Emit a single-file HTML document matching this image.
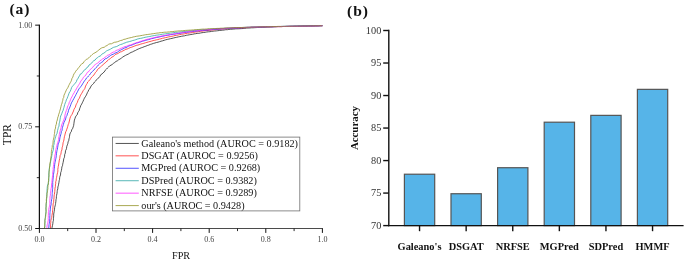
<!DOCTYPE html>
<html lang="en"><head><meta charset="utf-8"><title>Figure</title>
<style>html,body{margin:0;padding:0;background:#fff}svg{display:block}</style></head>
<body>
<svg width="685" height="259" viewBox="0 0 685 259">
<rect width="685" height="259" fill="#fff"/>
<g font-family="'Liberation Serif', serif" fill="#222">
<text x="9.4" y="14.1" font-size="15.6" letter-spacing="0.95" font-weight="bold" fill="#111">(a)</text>
<g fill="none" stroke-width="0.75" stroke-linejoin="round">
<path d="M52.0 228.4 L52.1 227.2 L52.5 225.5 L52.8 223.8 L53.0 221.8 L53.4 220.5 L53.4 218.8 L53.6 217.1 L53.7 215.9 L53.7 214.0 L53.9 213.0 L54.2 211.4 L54.5 209.2 L54.7 207.4 L55.1 205.9 L55.4 204.7 L55.6 203.4 L55.9 201.2 L56.0 199.7 L56.3 198.7 L56.4 196.7 L56.6 195.3 L57.0 193.3 L57.2 191.6 L57.3 190.5 L57.8 188.8 L57.9 186.9 L58.3 185.8 L58.6 184.2 L58.9 182.7 L59.2 180.6 L59.5 179.7 L59.7 177.5 L60.0 176.3 L60.5 175.0 L60.7 172.6 L61.2 171.4 L61.4 170.4 L61.7 168.8 L61.9 166.9 L62.5 165.7 L62.7 164.2 L63.1 162.5 L63.4 161.0 L63.8 158.6 L64.3 157.7 L64.6 156.2 L64.7 154.5 L65.3 153.1 L65.5 150.7 L66.0 150.0 L66.5 148.4 L66.8 146.3 L67.4 144.8 L67.8 143.7 L68.1 141.8 L68.7 140.8 L69.0 138.8 L69.4 137.6 L69.5 136.3 L69.9 134.0 L70.7 132.3 L71.3 131.6 L71.7 129.8 L72.5 128.8 L73.2 126.9 L73.6 125.7 L73.9 123.7 L74.1 122.1 L74.4 120.1 L74.9 118.7 L75.5 116.9 L76.3 115.6 L77.2 114.8 L77.8 112.6 L78.5 111.5 L79.2 110.5 L79.6 108.8 L80.2 107.3 L80.9 105.3 L81.7 104.1 L82.3 102.8 L82.8 101.8 L83.8 99.5 L84.4 98.2 L85.3 96.8 L85.9 95.9 L86.8 94.1 L87.5 92.3 L88.2 91.3 L88.8 89.6 L89.7 88.9 L90.6 87.0 L91.5 85.4 L92.4 84.7 L93.4 83.7 L94.5 82.0 L95.5 81.2 L96.5 79.8 L97.6 78.6 L98.8 77.8 L99.8 76.5 L100.8 74.7 L101.9 74.1 L103.1 72.8 L104.1 72.1 L105.2 70.3 L106.4 69.2 L107.5 68.0 L108.5 67.1 L109.7 65.8 L111.0 65.2 L112.3 64.4 L113.4 63.4 L114.7 62.5 L116.0 61.4 L117.4 60.8 L118.7 59.7 L120.1 59.0 L121.4 58.1 L122.8 57.0 L124.1 56.2 L125.5 55.4 L126.9 54.7 L128.3 54.1 L129.7 53.2 L131.1 52.4 L132.5 51.9 L133.9 51.1 L135.4 50.5 L136.8 49.7 L138.3 49.0 L139.8 48.4 L141.3 47.8 L142.8 47.3 L144.2 46.7 L145.8 46.2 L147.3 45.5 L148.8 45.1 L150.3 44.4 L151.8 44.0 L153.4 43.4 L154.9 43.0 L156.5 42.5 L158.0 42.2 L159.5 41.7 L161.1 41.2 L162.6 40.8 L164.2 40.3 L165.7 39.8 L167.3 39.4 L168.8 39.1 L170.4 38.7 L172.0 38.4 L173.5 38.0 L175.1 37.6 L176.7 37.3 L178.3 36.9 L179.9 36.6 L181.4 36.3 L183.0 36.0 L184.6 35.8 L186.2 35.3 L187.7 35.1 L189.3 34.8 L190.9 34.5 L192.5 34.3 L194.1 33.9 L195.6 33.7 L197.2 33.4 L198.8 33.3 L200.4 33.0 L202.0 32.7 L203.6 32.5 L205.2 32.3 L206.7 32.0 L208.3 31.8 L209.9 31.7 L211.5 31.4 L213.1 31.2 L214.7 31.0 L216.3 30.9 L217.8 30.7 L219.4 30.5 L221.0 30.3 L222.6 30.2 L224.2 30.0 L225.8 29.7 L227.4 29.7 L228.9 29.4 L230.5 29.3 L232.1 29.2 L233.7 29.1 L235.3 28.9 L236.9 28.8 L238.4 28.8 L240.0 28.7 L241.6 28.6 L243.2 28.5 L244.8 28.3 L246.4 28.1 L248.0 28.0 L249.6 28.0 L251.2 27.8 L252.8 27.8 L254.3 27.7 L255.9 27.6 L257.5 27.5 L259.1 27.4 L260.7 27.3 L262.3 27.2 L263.9 27.2 L265.5 27.1 L267.1 27.0 L268.7 27.0 L270.3 26.9 L271.9 26.9 L273.4 26.8 L275.0 26.7 L276.6 26.7 L278.2 26.6 L279.8 26.6 L281.4 26.6 L283.0 26.5 L284.6 26.5 L286.2 26.4 L287.8 26.4 L289.4 26.3 L291.0 26.3 L292.6 26.3 L294.2 26.2 L295.8 26.2 L297.4 26.2 L299.0 26.1 L300.6 26.1 L302.2 26.1 L303.8 26.0 L305.4 26.0 L307.0 26.0 L308.6 25.9 L310.3 25.9 L311.9 25.9 L313.5 25.9 L315.1 25.8 L316.7 25.8 L318.3 25.8 L319.9 25.7 L321.5 25.7 L322.4 25.7" stroke="#1a1a1a"/>
<path d="M50.4 228.4 L50.6 227.0 L50.6 224.8 L50.6 223.3 L50.8 222.4 L50.8 220.8 L51.4 218.5 L51.7 217.7 L51.9 215.8 L52.2 214.0 L52.5 212.3 L52.5 210.7 L52.7 209.7 L52.9 207.9 L53.0 206.1 L53.1 203.9 L53.6 202.6 L53.6 201.8 L53.8 199.7 L54.0 197.9 L54.1 196.0 L54.3 194.6 L54.6 193.0 L54.8 191.4 L54.9 190.0 L55.0 188.2 L55.4 186.5 L55.4 184.9 L55.7 183.8 L55.7 181.7 L56.1 181.1 L56.3 178.7 L56.6 177.4 L56.9 175.8 L57.2 174.1 L57.6 172.6 L57.9 170.9 L57.8 169.4 L58.1 167.6 L58.2 166.7 L58.6 165.0 L58.8 163.1 L59.0 162.2 L59.3 160.1 L59.7 158.7 L59.9 157.1 L60.2 155.3 L60.8 154.4 L61.1 152.8 L61.3 151.3 L61.9 149.9 L62.2 147.2 L62.6 146.2 L62.8 145.2 L63.1 142.7 L63.6 141.3 L63.9 140.0 L64.1 138.7 L64.4 136.7 L64.9 135.1 L65.1 134.1 L65.7 131.8 L66.2 131.1 L66.8 129.2 L67.3 127.9 L67.7 126.5 L68.3 124.3 L68.7 123.6 L69.1 122.0 L69.6 120.0 L70.0 118.2 L70.6 116.6 L71.3 115.4 L72.0 114.4 L72.6 113.0 L73.5 111.0 L74.0 109.4 L74.7 108.1 L75.3 107.3 L76.0 104.9 L76.7 103.5 L77.3 102.5 L78.0 100.4 L78.6 99.1 L79.4 98.2 L80.1 96.2 L80.6 95.1 L81.5 93.7 L82.5 92.0 L83.2 90.6 L84.3 89.3 L84.8 88.5 L85.6 86.1 L86.3 84.7 L87.1 83.6 L87.7 82.0 L88.7 81.1 L89.9 79.8 L90.7 78.5 L91.7 77.1 L92.8 76.1 L93.8 75.1 L94.6 73.8 L95.6 72.3 L96.6 71.3 L97.7 69.3 L98.9 68.3 L99.9 67.7 L101.2 66.3 L102.3 65.2 L103.5 64.4 L104.6 63.1 L105.8 62.4 L107.0 61.0 L108.1 60.3 L109.3 59.1 L110.6 58.3 L111.9 57.1 L113.2 56.5 L114.5 55.4 L115.8 54.2 L117.2 53.8 L118.6 53.1 L120.1 52.0 L121.5 51.7 L122.9 50.9 L124.3 50.2 L125.8 49.3 L127.2 49.0 L128.7 48.3 L130.2 47.6 L131.7 47.2 L133.1 46.6 L134.7 46.0 L136.2 45.4 L137.7 45.1 L139.2 44.7 L140.7 44.1 L142.3 43.7 L143.8 43.3 L145.4 42.8 L146.9 42.4 L148.5 41.9 L150.0 41.5 L151.6 41.1 L153.1 40.6 L154.7 40.3 L156.2 39.9 L157.8 39.6 L159.3 39.1 L160.9 38.8 L162.4 38.3 L164.0 38.0 L165.6 37.6 L167.1 37.3 L168.7 36.9 L170.3 36.6 L171.9 36.3 L173.4 36.0 L175.0 35.5 L176.5 35.4 L178.1 35.0 L179.7 34.6 L181.3 34.3 L182.9 34.1 L184.4 33.8 L186.0 33.5 L187.6 33.2 L189.2 33.1 L190.7 32.8 L192.3 32.6 L193.9 32.3 L195.5 32.0 L197.1 31.9 L198.7 31.6 L200.2 31.3 L201.8 31.2 L203.4 31.0 L205.0 30.7 L206.6 30.6 L208.2 30.5 L209.7 30.3 L211.3 30.1 L212.9 29.9 L214.5 29.8 L216.1 29.6 L217.7 29.4 L219.3 29.3 L220.9 29.1 L222.5 29.0 L224.1 28.8 L225.6 28.7 L227.2 28.7 L228.8 28.5 L230.4 28.4 L232.0 28.3 L233.6 28.2 L235.2 28.1 L236.8 28.1 L238.4 28.1 L240.0 28.0 L241.6 27.8 L243.2 27.8 L244.8 27.6 L246.4 27.6 L248.0 27.5 L249.6 27.5 L251.2 27.3 L252.8 27.3 L254.3 27.2 L256.0 27.3 L257.5 27.1 L259.1 27.1 L260.8 27.0 L262.4 27.0 L264.0 26.9 L265.6 26.9 L267.1 26.8 L268.7 26.8 L270.3 26.8 L271.9 26.7 L273.5 26.7 L275.1 26.7 L276.8 26.6 L278.3 26.6 L280.0 26.6 L281.6 26.6 L283.2 26.5 L284.8 26.5 L286.4 26.5 L288.0 26.4 L289.6 26.4 L291.2 26.4 L292.8 26.4 L294.4 26.3 L296.0 26.3 L297.6 26.3 L299.2 26.3 L300.8 26.2 L302.4 26.2 L304.0 26.2 L305.6 26.1 L307.2 26.1 L308.8 26.1 L310.4 26.0 L312.0 26.0 L313.6 25.9 L315.2 25.9 L316.8 25.9 L318.4 25.8 L320.0 25.8 L321.6 25.7 L322.4 25.7" stroke="#ff1a1a"/>
<path d="M48.6 228.4 L48.9 227.0 L49.0 224.8 L49.3 223.6 L49.5 221.6 L49.7 220.1 L49.8 218.3 L49.8 217.0 L49.9 215.4 L49.9 214.1 L50.0 212.6 L50.1 211.2 L50.4 209.3 L50.4 208.1 L50.7 206.0 L51.1 204.8 L51.1 203.0 L51.4 201.5 L51.6 199.5 L51.9 198.7 L52.0 196.9 L52.2 194.6 L52.2 193.4 L52.3 192.3 L52.5 189.7 L52.7 188.4 L52.7 187.3 L52.7 184.9 L52.8 184.1 L52.7 182.3 L52.9 180.8 L53.0 179.0 L53.2 177.9 L53.4 175.6 L53.5 174.3 L53.9 172.1 L54.0 171.1 L54.2 169.4 L54.3 168.4 L54.5 166.8 L54.7 164.3 L55.0 162.6 L55.3 161.1 L55.6 159.6 L55.8 158.7 L56.2 156.9 L56.3 155.3 L56.5 153.6 L56.8 151.5 L57.0 150.4 L57.3 149.5 L57.6 147.7 L57.9 145.9 L58.2 143.9 L58.7 143.2 L59.3 141.1 L59.6 139.8 L59.9 137.8 L60.3 136.4 L60.7 134.8 L61.1 133.4 L61.4 131.4 L62.0 130.5 L62.3 128.4 L62.5 127.4 L63.0 125.8 L63.4 124.4 L64.0 122.4 L64.7 120.9 L65.3 120.0 L65.8 118.1 L66.3 116.3 L66.9 115.6 L67.6 113.1 L68.0 112.6 L68.5 110.4 L69.0 109.0 L69.5 108.1 L70.3 106.0 L70.8 104.7 L71.4 102.9 L72.0 102.0 L72.8 100.4 L73.8 98.7 L74.7 96.9 L75.4 95.8 L76.0 94.5 L76.9 92.8 L77.5 91.7 L78.4 89.9 L79.0 88.8 L80.1 87.5 L81.0 86.3 L81.9 85.1 L82.7 83.7 L83.7 82.1 L84.5 80.8 L85.4 79.9 L86.4 78.1 L87.5 77.2 L88.3 76.2 L89.5 75.0 L90.6 73.4 L91.7 72.0 L92.7 71.2 L93.8 70.2 L94.9 68.8 L96.1 67.5 L97.2 66.5 L98.3 65.0 L99.4 64.1 L100.5 62.9 L101.7 62.3 L102.9 61.5 L104.0 59.9 L105.3 58.8 L106.7 58.4 L108.0 57.3 L109.2 56.5 L110.6 55.4 L111.9 54.7 L113.3 54.2 L114.6 53.4 L116.1 52.7 L117.5 52.1 L118.9 51.0 L120.2 50.3 L121.7 49.5 L123.1 48.8 L124.5 48.0 L126.0 47.6 L127.4 46.8 L128.9 45.9 L130.3 45.6 L131.8 45.1 L133.3 44.4 L134.8 43.8 L136.3 43.1 L137.8 42.8 L139.4 42.3 L140.9 41.8 L142.5 41.2 L144.0 40.8 L145.5 40.4 L147.1 39.9 L148.6 39.6 L150.2 39.1 L151.7 38.6 L153.3 38.4 L154.8 37.9 L156.4 37.5 L158.0 37.2 L159.5 36.9 L161.1 36.5 L162.7 36.2 L164.3 35.9 L165.8 35.5 L167.4 35.3 L169.0 35.0 L170.6 34.7 L172.2 34.5 L173.8 34.2 L175.4 34.0 L177.0 33.7 L178.6 33.5 L180.1 33.3 L181.7 33.0 L183.3 32.7 L184.9 32.5 L186.5 32.3 L188.1 32.1 L189.7 31.9 L191.3 31.7 L192.9 31.5 L194.5 31.3 L196.1 31.2 L197.7 30.9 L199.3 30.8 L200.9 30.6 L202.5 30.5 L204.1 30.4 L205.7 30.3 L207.3 30.2 L208.9 29.9 L210.4 29.8 L212.0 29.7 L213.6 29.5 L215.2 29.4 L216.8 29.3 L218.4 29.1 L220.0 29.1 L221.6 28.8 L223.2 28.8 L224.8 28.7 L226.3 28.6 L227.9 28.4 L229.6 28.4 L231.2 28.3 L232.7 28.2 L234.3 28.0 L235.9 28.1 L237.5 27.9 L239.1 27.9 L240.7 27.8 L242.3 27.7 L243.9 27.6 L245.5 27.6 L247.1 27.4 L248.6 27.4 L250.2 27.3 L251.8 27.2 L253.4 27.2 L255.0 27.1 L256.6 27.1 L258.2 27.1 L259.8 27.0 L261.4 27.0 L263.0 26.9 L264.6 26.8 L266.2 26.8 L267.8 26.7 L269.4 26.7 L271.0 26.7 L272.6 26.7 L274.2 26.6 L275.7 26.6 L277.3 26.5 L278.9 26.5 L280.5 26.5 L282.1 26.4 L283.7 26.4 L285.3 26.4 L286.9 26.3 L288.5 26.3 L290.1 26.3 L291.7 26.2 L293.3 26.2 L294.9 26.2 L296.5 26.2 L298.1 26.1 L299.7 26.1 L301.3 26.1 L302.9 26.0 L304.5 26.0 L306.1 26.0 L307.7 26.0 L309.3 25.9 L311.0 25.9 L312.6 25.9 L314.2 25.9 L315.8 25.8 L317.4 25.8 L319.0 25.8 L320.6 25.7 L322.2 25.7 L322.4 25.7" stroke="#1a1aff"/>
<path d="M44.4 228.4 L44.8 227.1 L45.0 224.7 L44.9 223.8 L45.0 221.8 L44.9 220.4 L45.2 218.4 L45.3 217.3 L45.4 216.2 L45.7 213.9 L45.9 212.1 L46.0 211.3 L46.0 209.8 L45.9 207.7 L46.1 206.6 L46.1 205.0 L46.4 203.2 L46.5 201.7 L46.6 199.4 L46.7 198.6 L46.7 196.5 L46.9 194.7 L46.8 193.4 L47.0 192.2 L47.0 190.1 L47.2 188.1 L47.3 186.7 L47.6 185.1 L48.1 184.0 L48.4 182.7 L48.8 180.7 L48.8 178.8 L48.7 177.6 L48.8 175.4 L48.8 173.7 L48.9 172.7 L49.1 170.8 L49.2 169.3 L49.5 167.3 L49.9 166.2 L50.1 164.8 L50.3 163.6 L50.7 161.0 L51.0 159.9 L51.3 158.3 L51.6 156.9 L51.8 155.6 L52.2 153.6 L52.6 152.1 L53.1 150.5 L53.5 149.3 L53.6 147.8 L53.6 145.6 L54.0 144.4 L54.2 142.7 L54.5 140.8 L54.8 139.8 L55.2 138.1 L55.8 136.4 L56.2 134.9 L56.9 133.8 L57.3 132.0 L57.6 130.4 L58.1 128.6 L58.3 127.5 L59.0 126.1 L59.1 123.9 L59.5 122.3 L59.8 121.1 L60.1 119.1 L60.4 117.3 L60.7 116.0 L61.2 115.0 L61.9 113.3 L62.4 111.9 L63.1 110.4 L63.5 108.8 L63.9 107.7 L64.3 106.0 L64.7 104.6 L65.3 102.8 L65.9 101.5 L66.3 99.9 L67.0 98.7 L67.8 96.6 L68.4 95.1 L69.0 93.3 L69.7 91.9 L70.2 91.4 L71.0 89.4 L71.6 87.6 L72.5 86.2 L73.3 85.4 L74.3 84.2 L75.3 83.1 L76.4 81.6 L76.9 79.9 L77.7 79.0 L78.7 77.0 L79.5 75.8 L80.2 74.2 L81.5 73.7 L82.5 72.3 L83.6 71.0 L84.6 69.7 L85.8 69.2 L86.8 67.5 L88.1 66.9 L89.0 65.0 L90.2 64.3 L91.5 63.3 L92.7 61.6 L93.9 60.6 L95.1 60.1 L96.2 58.5 L97.4 57.9 L98.7 56.5 L100.0 56.2 L101.3 55.1 L102.5 53.6 L103.8 53.2 L105.0 52.3 L106.4 51.0 L107.8 50.3 L109.1 49.8 L110.5 49.1 L112.0 48.2 L113.4 47.4 L114.8 47.0 L116.4 46.6 L117.9 45.9 L119.3 45.0 L120.7 44.5 L122.2 44.1 L123.7 43.3 L125.1 42.9 L126.7 42.2 L128.1 41.9 L129.7 41.5 L131.2 41.1 L132.7 40.5 L134.3 40.2 L135.8 39.7 L137.3 39.1 L138.9 38.7 L140.4 38.4 L142.0 38.1 L143.5 37.7 L145.1 37.3 L146.7 37.0 L148.3 36.7 L149.8 36.5 L151.4 36.1 L153.0 35.8 L154.6 35.5 L156.2 35.2 L157.8 35.0 L159.4 34.8 L161.0 34.5 L162.6 34.2 L164.2 34.0 L165.7 33.8 L167.4 33.5 L169.0 33.3 L170.6 33.1 L172.2 32.9 L173.8 32.6 L175.4 32.4 L177.0 32.3 L178.6 32.1 L180.2 31.9 L181.8 31.8 L183.4 31.5 L185.0 31.4 L186.5 31.3 L188.1 31.1 L189.8 30.9 L191.3 30.8 L192.9 30.7 L194.5 30.4 L196.1 30.3 L197.7 30.1 L199.3 30.0 L200.9 29.9 L202.5 29.8 L204.1 29.7 L205.7 29.6 L207.3 29.5 L208.9 29.2 L210.4 29.2 L212.0 29.1 L213.6 29.0 L215.3 28.9 L216.8 28.8 L218.4 28.7 L220.0 28.6 L221.6 28.5 L223.2 28.4 L224.8 28.2 L226.4 28.2 L228.0 28.1 L229.6 28.0 L231.2 27.9 L232.7 27.9 L234.3 27.8 L235.9 27.8 L237.5 27.7 L239.1 27.7 L240.7 27.5 L242.3 27.6 L243.9 27.4 L245.5 27.3 L247.1 27.3 L248.7 27.3 L250.3 27.3 L251.9 27.1 L253.4 27.1 L255.0 27.1 L256.6 27.1 L258.2 27.0 L259.8 27.0 L261.4 26.9 L263.0 26.9 L264.6 26.8 L266.2 26.8 L267.8 26.7 L269.4 26.7 L271.0 26.7 L272.6 26.7 L274.2 26.6 L275.8 26.6 L277.4 26.5 L279.0 26.5 L280.6 26.5 L282.2 26.5 L283.8 26.4 L285.4 26.4 L287.0 26.4 L288.6 26.4 L290.2 26.3 L291.8 26.3 L293.4 26.3 L295.0 26.2 L296.6 26.2 L298.2 26.2 L299.8 26.1 L301.4 26.1 L303.0 26.1 L304.6 26.1 L306.2 26.0 L307.8 26.0 L309.4 26.0 L311.0 25.9 L312.6 25.9 L314.2 25.9 L315.8 25.8 L317.4 25.8 L319.0 25.8 L320.7 25.7 L322.3 25.7 L322.4 25.7" stroke="#22a0a0"/>
<path d="M47.0 228.4 L46.9 227.3 L47.2 224.7 L47.7 224.0 L47.9 222.1 L48.3 220.0 L48.2 218.4 L48.3 217.3 L48.3 215.3 L48.4 213.9 L48.4 212.2 L48.7 211.4 L48.8 209.3 L49.1 207.5 L49.3 206.7 L49.8 205.1 L49.9 203.2 L49.8 201.0 L49.9 200.2 L50.0 198.1 L50.0 196.9 L50.4 195.2 L50.4 193.6 L50.7 192.1 L50.8 190.6 L51.1 188.6 L51.4 187.0 L51.6 185.0 L51.5 183.7 L51.9 182.7 L52.0 180.4 L52.1 179.4 L52.3 177.9 L52.5 175.6 L52.7 174.6 L52.7 172.9 L52.8 171.7 L53.2 169.4 L53.1 168.2 L53.4 166.7 L53.7 164.6 L53.8 162.9 L54.0 161.5 L54.3 160.2 L54.3 158.2 L54.7 157.2 L54.9 155.0 L55.3 154.0 L55.5 151.9 L55.6 150.5 L55.9 149.4 L56.4 147.4 L56.9 146.0 L57.2 144.1 L57.7 142.7 L58.3 140.8 L58.6 139.7 L58.7 138.0 L59.1 136.3 L59.3 134.6 L59.5 133.2 L60.0 131.6 L60.3 130.1 L60.8 129.0 L61.1 127.5 L61.4 126.0 L62.0 123.9 L62.6 123.0 L63.2 121.1 L63.8 120.1 L64.5 117.6 L64.7 116.7 L65.0 115.0 L65.4 113.3 L65.8 112.0 L66.3 110.6 L67.0 109.0 L67.4 107.0 L68.1 105.5 L68.8 104.3 L69.3 102.2 L69.8 101.5 L70.5 99.8 L71.1 98.2 L71.9 96.9 L72.4 95.8 L73.2 94.2 L74.2 92.7 L75.0 90.8 L75.7 90.2 L76.7 88.2 L77.2 87.4 L78.3 85.6 L79.0 84.5 L79.8 83.3 L80.8 81.1 L81.7 80.1 L82.7 78.7 L83.4 77.3 L84.5 76.3 L85.4 75.7 L86.5 73.8 L87.3 72.4 L88.3 72.0 L89.5 70.4 L90.5 69.2 L91.7 68.3 L92.8 67.3 L93.9 65.7 L95.2 64.6 L96.3 63.8 L97.6 63.1 L98.8 62.2 L100.0 60.6 L101.2 60.1 L102.6 58.9 L103.9 58.4 L105.2 57.0 L106.6 56.2 L107.8 55.1 L109.1 55.0 L110.5 53.6 L111.8 52.9 L113.2 52.1 L114.6 51.8 L116.0 50.5 L117.4 50.0 L118.8 49.5 L120.3 48.5 L121.7 48.1 L123.2 47.4 L124.7 46.6 L126.2 46.4 L127.8 45.7 L129.2 45.1 L130.7 44.9 L132.2 44.3 L133.7 43.6 L135.3 43.1 L136.8 42.5 L138.3 42.2 L139.8 41.5 L141.4 41.1 L142.9 40.6 L144.4 40.2 L146.0 39.6 L147.5 39.2 L149.1 38.9 L150.7 38.4 L152.3 38.1 L153.8 37.6 L155.4 37.3 L157.0 37.0 L158.6 36.7 L160.2 36.4 L161.8 36.0 L163.4 35.7 L165.0 35.4 L166.6 35.1 L168.2 34.8 L169.8 34.6 L171.4 34.3 L172.9 34.0 L174.6 33.8 L176.2 33.5 L177.7 33.3 L179.3 33.0 L180.9 32.8 L182.5 32.5 L184.1 32.3 L185.7 32.1 L187.3 31.8 L188.9 31.6 L190.5 31.4 L192.0 31.2 L193.6 31.0 L195.2 31.0 L196.8 30.7 L198.4 30.6 L200.0 30.4 L201.6 30.2 L203.2 30.1 L204.8 29.9 L206.3 29.8 L207.9 29.6 L209.5 29.5 L211.1 29.4 L212.7 29.2 L214.3 29.1 L215.8 29.0 L217.5 28.9 L219.0 28.8 L220.6 28.7 L222.2 28.6 L223.8 28.5 L225.4 28.3 L227.0 28.3 L228.5 28.2 L230.1 28.1 L231.7 28.0 L233.3 27.8 L234.9 27.8 L236.5 27.8 L238.1 27.7 L239.6 27.7 L241.2 27.5 L242.8 27.6 L244.4 27.5 L246.0 27.4 L247.6 27.4 L249.2 27.3 L250.8 27.3 L252.4 27.2 L253.9 27.2 L255.5 27.1 L257.1 27.1 L258.7 27.0 L260.3 27.0 L261.9 26.9 L263.5 26.8 L265.1 26.8 L266.7 26.8 L268.3 26.7 L269.9 26.7 L271.5 26.7 L273.1 26.7 L274.6 26.6 L276.3 26.6 L277.8 26.6 L279.4 26.6 L281.0 26.6 L282.6 26.5 L284.2 26.5 L285.8 26.5 L287.4 26.4 L289.0 26.4 L290.6 26.4 L292.2 26.4 L293.8 26.3 L295.4 26.3 L297.0 26.3 L298.6 26.3 L300.3 26.2 L301.9 26.2 L303.5 26.2 L305.1 26.1 L306.7 26.1 L308.3 26.1 L309.9 26.0 L311.5 26.0 L313.1 26.0 L314.7 25.9 L316.3 25.9 L318.0 25.8 L319.6 25.8 L321.2 25.7 L322.4 25.7" stroke="#ff22ff"/>
<path d="M44.2 228.4 L44.7 226.9 L44.6 225.6 L44.7 224.1 L44.9 222.1 L44.9 220.6 L45.2 218.7 L45.5 217.4 L45.7 216.2 L45.8 214.6 L46.1 212.1 L46.1 211.4 L46.0 208.8 L46.1 207.2 L46.1 205.7 L46.1 204.2 L46.1 203.4 L46.4 201.8 L46.3 200.0 L46.5 198.2 L46.9 197.0 L46.9 195.0 L47.1 193.0 L47.5 191.3 L47.6 190.4 L47.9 188.6 L47.9 187.3 L48.0 185.7 L48.4 184.0 L48.3 182.5 L48.5 180.8 L48.6 178.9 L48.8 177.8 L49.0 176.3 L49.0 174.5 L49.1 172.2 L49.1 171.5 L49.4 169.4 L49.5 168.3 L49.7 165.8 L49.7 165.2 L50.0 162.9 L50.4 161.4 L50.5 160.1 L50.8 157.9 L51.0 156.4 L51.3 155.3 L51.3 153.5 L51.4 151.6 L51.7 149.9 L51.8 149.3 L52.2 147.4 L52.3 145.5 L52.8 144.5 L53.0 143.1 L53.2 140.5 L53.5 139.1 L53.8 137.9 L54.1 136.7 L54.3 134.4 L54.5 133.6 L54.7 131.9 L54.9 129.8 L55.5 128.1 L55.6 126.5 L56.0 124.8 L56.4 124.2 L56.6 121.7 L57.0 121.1 L57.5 118.8 L57.9 117.0 L58.3 116.3 L58.6 114.7 L59.3 112.8 L59.6 111.6 L60.1 110.0 L60.6 108.1 L61.0 106.4 L61.4 104.7 L61.8 104.0 L62.4 101.5 L62.7 100.7 L63.1 98.4 L63.7 97.5 L64.0 95.2 L64.7 93.8 L65.2 92.7 L66.0 90.8 L66.7 89.3 L67.3 88.5 L68.0 87.3 L68.8 85.4 L69.4 84.3 L70.2 82.8 L70.9 81.6 L71.5 80.2 L72.0 78.3 L72.8 77.2 L73.3 75.5 L74.0 73.8 L74.8 72.9 L75.7 71.3 L76.9 69.7 L78.0 68.7 L78.8 67.5 L79.9 66.1 L80.9 64.8 L81.9 63.6 L83.2 63.2 L84.1 61.6 L85.3 60.4 L86.3 59.3 L87.5 58.9 L88.8 57.9 L90.0 56.5 L91.1 55.7 L92.2 54.6 L93.4 53.6 L94.9 52.8 L96.0 52.2 L97.4 51.2 L98.8 50.0 L100.0 49.0 L101.5 48.0 L102.8 47.5 L104.2 47.3 L105.7 46.1 L107.1 45.5 L108.4 44.4 L109.9 43.8 L111.4 43.8 L112.9 43.0 L114.4 42.3 L116.0 42.1 L117.6 41.7 L119.1 41.1 L120.6 40.5 L122.2 40.2 L123.7 39.4 L125.2 39.2 L126.8 38.6 L128.4 38.2 L129.9 37.8 L131.5 37.5 L133.1 37.0 L134.7 36.7 L136.3 36.3 L137.9 36.1 L139.4 35.9 L141.0 35.6 L142.6 35.3 L144.2 35.0 L145.7 34.7 L147.4 34.5 L148.9 34.3 L150.5 34.1 L152.1 33.8 L153.7 33.6 L155.3 33.4 L156.9 33.1 L158.4 33.0 L160.1 32.7 L161.6 32.6 L163.2 32.4 L164.8 32.2 L166.4 32.2 L168.0 32.0 L169.6 31.9 L171.2 31.6 L172.8 31.6 L174.4 31.3 L176.0 31.2 L177.6 31.0 L179.2 30.9 L180.8 30.8 L182.4 30.7 L184.0 30.6 L185.6 30.4 L187.2 30.3 L188.8 30.2 L190.4 30.1 L191.9 30.0 L193.5 29.9 L195.1 29.7 L196.7 29.6 L198.3 29.5 L199.9 29.4 L201.5 29.2 L203.1 29.1 L204.7 29.1 L206.3 29.0 L207.9 28.8 L209.5 28.8 L211.1 28.7 L212.7 28.6 L214.3 28.6 L215.8 28.5 L217.5 28.4 L219.1 28.4 L220.6 28.2 L222.3 28.2 L223.9 28.2 L225.4 28.0 L227.0 27.9 L228.6 27.9 L230.2 27.9 L231.8 27.8 L233.4 27.7 L235.0 27.6 L236.6 27.6 L238.2 27.5 L239.8 27.5 L241.4 27.5 L243.0 27.4 L244.6 27.4 L246.2 27.3 L247.8 27.2 L249.4 27.2 L251.0 27.1 L252.6 27.1 L254.2 27.1 L255.8 27.0 L257.4 26.9 L259.0 26.9 L260.6 26.9 L262.2 26.8 L263.8 26.8 L265.3 26.8 L266.9 26.7 L268.5 26.7 L270.2 26.7 L271.7 26.6 L273.3 26.5 L274.9 26.5 L276.5 26.5 L278.1 26.4 L279.7 26.4 L281.3 26.4 L282.9 26.4 L284.5 26.3 L286.1 26.3 L287.7 26.3 L289.3 26.3 L290.9 26.2 L292.5 26.2 L294.1 26.2 L295.7 26.2 L297.3 26.1 L298.9 26.1 L300.5 26.1 L302.1 26.0 L303.7 26.0 L305.3 26.0 L306.9 26.0 L308.6 25.9 L310.2 25.9 L311.8 25.9 L313.4 25.9 L315.0 25.8 L316.6 25.8 L318.2 25.8 L319.8 25.7 L321.4 25.7 L322.4 25.7" stroke="#8c8c1a"/>
</g>
<g stroke="#111" stroke-width="1.0" fill="none">
<path d="M39.4 24.65 V228.95" stroke-width="1.25"/>
<path d="M38.8 228.5 H322.9" stroke-width="0.85" stroke="#2a2a2a"/>
<path d="M35.199999999999996 25.15 H39.4"/>
<path d="M35.199999999999996 126.82 H39.4"/>
<path d="M35.199999999999996 228.50 H39.4"/>
<path d="M36.8 75.99 H39.4" stroke-width="0.9"/>
<path d="M36.8 177.66 H39.4" stroke-width="0.9"/>
<path d="M39.40 228.5 V232.9"/>
<path d="M96.00 228.5 V232.9"/>
<path d="M152.60 228.5 V232.9"/>
<path d="M209.20 228.5 V232.9"/>
<path d="M265.80 228.5 V232.9"/>
<path d="M322.40 228.5 V232.9"/>
<path d="M67.70 228.5 V231.1" stroke-width="0.9"/>
<path d="M124.30 228.5 V231.1" stroke-width="0.9"/>
<path d="M180.90 228.5 V231.1" stroke-width="0.9"/>
<path d="M237.50 228.5 V231.1" stroke-width="0.9"/>
<path d="M294.10 228.5 V231.1" stroke-width="0.9"/>
</g>
<g font-size="8" fill="#444">
<text x="32.3" y="27.65" text-anchor="end">1.00</text>
<text x="32.3" y="129.32" text-anchor="end">0.75</text>
<text x="32.3" y="231.00" text-anchor="end">0.50</text>
<text x="39.40" y="241.7" text-anchor="middle">0.0</text>
<text x="96.00" y="241.7" text-anchor="middle">0.2</text>
<text x="152.60" y="241.7" text-anchor="middle">0.4</text>
<text x="209.20" y="241.7" text-anchor="middle">0.6</text>
<text x="265.80" y="241.7" text-anchor="middle">0.8</text>
<text x="322.40" y="241.7" text-anchor="middle">1.0</text>
</g>
<text transform="translate(11.1 134.6) rotate(-90)" font-size="11.5" text-anchor="middle" fill="#111">TPR</text>
<text x="181.1" y="258.5" font-size="10.2" text-anchor="middle" fill="#111">FPR</text>
<rect x="112.5" y="137.1" width="187.3" height="73.8" fill="#fff" stroke="#6e6e6e" stroke-width="0.8"/>
<path d="M115.6 143.45 H138.8" stroke="#1a1a1a" stroke-width="0.75"/>
<text x="141.3" y="146.50" font-size="10.2" fill="#111">Galeano's method (AUROC = 0.9182)</text>
<path d="M115.6 155.84 H138.8" stroke="#ff1a1a" stroke-width="0.75"/>
<text x="141.3" y="158.94" font-size="10.2" fill="#111">DSGAT (AUROC = 0.9256)</text>
<path d="M115.6 168.28 H138.8" stroke="#1a1aff" stroke-width="0.75"/>
<text x="141.3" y="171.38" font-size="10.2" fill="#111">MGPred (AUROC = 0.9268)</text>
<path d="M115.6 180.72 H138.8" stroke="#22a0a0" stroke-width="0.75"/>
<text x="141.3" y="183.82" font-size="10.2" fill="#111">DSPred (AUROC = 0.9382)</text>
<path d="M115.6 193.16 H138.8" stroke="#ff22ff" stroke-width="0.75"/>
<text x="141.3" y="196.26" font-size="10.2" fill="#111">NRFSE (AUROC = 0.9289)</text>
<path d="M115.6 205.60 H138.8" stroke="#8c8c1a" stroke-width="0.75"/>
<text x="141.3" y="208.70" font-size="10.2" fill="#111">our's (AUROC = 0.9428)</text>
</g>
<g font-family="'Liberation Serif', serif" fill="#222">
<text x="347.1" y="16.0" font-size="15.6" letter-spacing="0.95" font-weight="bold" fill="#111">(b)</text>
<rect x="404.40" y="174.22" width="30.3" height="51.38" fill="#56b4e8" stroke="#555" stroke-width="1.2"/>
<rect x="451.00" y="193.73" width="30.3" height="31.87" fill="#56b4e8" stroke="#555" stroke-width="1.2"/>
<rect x="497.60" y="167.72" width="30.3" height="57.88" fill="#56b4e8" stroke="#555" stroke-width="1.2"/>
<rect x="544.20" y="122.20" width="30.3" height="103.40" fill="#56b4e8" stroke="#555" stroke-width="1.2"/>
<rect x="590.80" y="115.37" width="30.3" height="110.23" fill="#56b4e8" stroke="#555" stroke-width="1.2"/>
<rect x="637.40" y="89.36" width="30.3" height="136.24" fill="#56b4e8" stroke="#555" stroke-width="1.2"/>
<g stroke="#111" stroke-width="1.4" fill="none">
<path d="M388.8 29.8 V226.29999999999998"/>
<path d="M388.1 225.6 H683.6"/>
<path d="M383.2 30.50 H388.8"/>
<path d="M383.2 63.02 H388.8"/>
<path d="M383.2 95.53 H388.8"/>
<path d="M383.2 128.05 H388.8"/>
<path d="M383.2 160.57 H388.8"/>
<path d="M383.2 193.08 H388.8"/>
<path d="M383.2 225.60 H388.8"/>
<path d="M419.55 225.6 V231.2"/>
<path d="M466.15 225.6 V231.2"/>
<path d="M512.75 225.6 V231.2"/>
<path d="M559.35 225.6 V231.2"/>
<path d="M605.95 225.6 V231.2"/>
<path d="M652.55 225.6 V231.2"/>
</g>
<g font-size="10.3" fill="#333">
<text x="381.3" y="33.80" text-anchor="end">100</text>
<text x="381.3" y="66.32" text-anchor="end">95</text>
<text x="381.3" y="98.83" text-anchor="end">90</text>
<text x="381.3" y="131.35" text-anchor="end">85</text>
<text x="381.3" y="163.87" text-anchor="end">80</text>
<text x="381.3" y="196.38" text-anchor="end">75</text>
<text x="381.3" y="228.90" text-anchor="end">70</text>
</g>
<g font-size="10.4" font-weight="bold" fill="#111">
<text x="419.55" y="249.8" text-anchor="middle">Galeano's</text>
<text x="466.15" y="249.8" text-anchor="middle">DSGAT</text>
<text x="512.75" y="249.8" text-anchor="middle">NRFSE</text>
<text x="559.35" y="249.8" text-anchor="middle">MGPred</text>
<text x="605.95" y="249.8" text-anchor="middle">SDPred</text>
<text x="652.55" y="249.8" text-anchor="middle">HMMF</text>
</g>
<text transform="translate(358.1 128.1) rotate(-90)" font-size="10.85" font-weight="bold" text-anchor="middle" fill="#111">Accuracy</text>
</g>
</svg>
</body></html>
